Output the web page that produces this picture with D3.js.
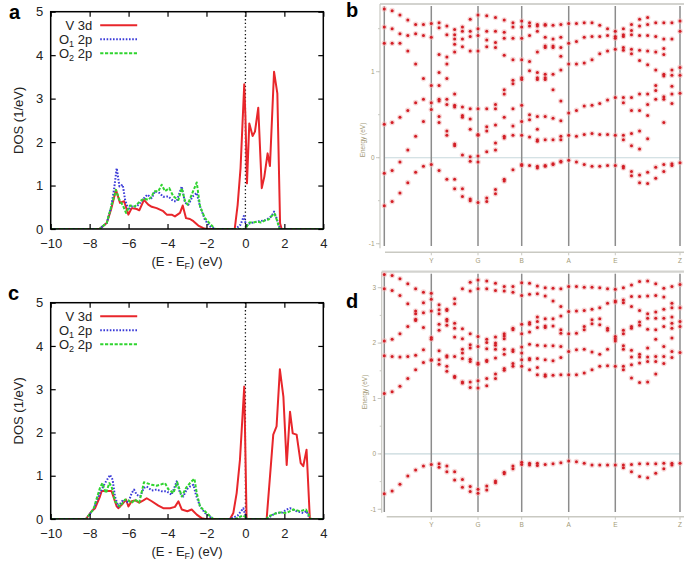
<!DOCTYPE html>
<html><head><meta charset="utf-8">
<script src="https://cdn.jsdelivr.net/npm/d3@7"></script>
<style>body{margin:0;background:#fff}svg{display:block}</style>
</head><body>
<svg id="c" width="685" height="562"></svg>
<script>
// ---------------- DOS data (energy eV, DOS 1/eV) ----------------
const dosXTicks = [-10,-8,-6,-4,-2,0,2,4];
const dosYTicks = [0,1,2,3,4,5];
const legendNames = ["V 3d","O1 2p","O2 2p"];

const v3dA = [[-10,0],[-7.5,0],[-7.12,0.14],[-6.9,0.45],[-6.65,0.90],[-6.44,0.60],[-6.23,0.64],[-6.01,0.33],[-5.84,0.48],[-5.58,0.46],[-5.45,0.43],[-5.21,0.67],[-4.99,0.56],[-4.81,0.51],[-4.56,0.48],[-4.22,0.41],[-4.04,0.33],[-3.79,0.33],[-3.62,0.29],[-3.36,0.37],[-3.22,0.54],[-3.05,0.25],[-2.85,0.23],[-2.67,0.18],[-2.42,0.08],[-2.16,0.02],[-1.99,0],[-0.55,0],[-0.40,0.55],[-0.25,1.4],[-0.06,3.33],[0.0,2.6],[0.08,1.05],[0.20,2.43],[0.37,2.14],[0.49,2.24],[0.66,2.79],[0.84,0.94],[0.97,1.20],[1.14,1.74],[1.26,1.45],[1.47,3.62],[1.64,3.12],[1.78,0.13],[1.86,0],[4,0]];
const o1A = [[-10,0],[-7.5,0],[-7.12,0.14],[-6.9,0.5],[-6.75,0.9],[-6.61,1.40],[-6.47,0.98],[-6.30,1.02],[-6.18,0.67],[-6.01,0.44],[-5.84,0.52],[-5.58,0.52],[-5.41,0.6],[-5.21,0.71],[-5.04,0.79],[-4.81,0.71],[-4.64,0.87],[-4.42,0.83],[-4.22,0.74],[-3.96,0.75],[-3.70,0.64],[-3.53,0.64],[-3.27,0.98],[-3.10,0.60],[-2.93,0.56],[-2.71,0.75],[-2.50,0.83],[-2.33,0.52],[-2.08,0.21],[-1.82,0.06],[-1.56,0],[-0.5,0],[-0.25,0.1],[-0.08,0.3],[0.05,0.05],[0.15,0.12],[0.4,0.15],[0.7,0.18],[1.0,0.2],[1.2,0.25],[1.35,0.3],[1.47,0.40],[1.6,0.25],[1.78,0],[4,0]];
const o2A = [[-10,0],[-7.5,0],[-7.12,0.14],[-6.9,0.5],[-6.65,0.90],[-6.47,0.67],[-6.3,0.55],[-6.13,0.37],[-5.93,0.54],[-5.67,0.52],[-5.41,0.64],[-5.21,0.70],[-4.99,0.67],[-4.81,0.75],[-4.69,0.87],[-4.47,0.87],[-4.30,1.02],[-4.13,0.87],[-3.91,0.94],[-3.70,0.75],[-3.44,0.67],[-3.27,0.94],[-3.10,0.64],[-2.97,0.56],[-2.76,0.79],[-2.50,1.07],[-2.33,0.52],[-2.08,0.25],[-1.82,0.12],[-1.56,0],[0.0,0],[0.1,0.08],[0.2,0.15],[0.4,0.15],[0.6,0.17],[0.8,0.15],[1.0,0.2],[1.2,0.22],[1.35,0.3],[1.5,0.35],[1.62,0.2],[1.75,0],[4,0]];

const v3dC = [[-10,0],[-8.19,0],[-7.90,0.18],[-7.72,0.25],[-7.47,0.52],[-7.38,0.65],[-6.95,0.65],[-6.87,0.64],[-6.61,0.29],[-6.53,0.25],[-6.27,0.37],[-6.13,0.45],[-6.01,0.29],[-5.84,0.41],[-5.67,0.43],[-5.45,0.38],[-5.24,0.43],[-5.07,0.48],[-4.81,0.41],[-4.47,0.31],[-4.22,0.25],[-3.87,0.25],[-3.62,0.28],[-3.44,0.41],[-3.27,0.22],[-2.98,0.18],[-2.76,0.22],[-2.50,0.10],[-2.25,0.02],[-2.08,0],[-0.79,0],[-0.62,0.14],[-0.45,0.60],[-0.28,1.37],[-0.14,2.45],[-0.06,3.06],[0.06,0],[1.09,0],[1.30,1.2],[1.43,1.95],[1.60,2.14],[1.77,3.46],[1.95,2.83],[2.12,1.25],[2.29,2.48],[2.43,1.98],[2.63,1.95],[2.84,1.29],[2.97,1.22],[3.14,1.60],[3.31,0],[4,0]];
const o1C = [[-10,0],[-8.19,0],[-7.81,0.22],[-7.47,0.6],[-7.21,0.83],[-6.95,1.02],[-6.82,0.91],[-6.70,0.52],[-6.53,0.29],[-6.27,0.45],[-6.01,0.38],[-5.84,0.60],[-5.72,0.68],[-5.58,0.56],[-5.41,0.52],[-5.21,0.72],[-5.07,0.75],[-4.81,0.66],[-4.56,0.68],[-4.30,0.64],[-4.04,0.64],[-3.79,0.56],[-3.53,0.87],[-3.36,0.60],[-3.19,0.52],[-3.02,0.68],[-2.85,0.75],[-2.67,0.79],[-2.54,0.56],[-2.33,0.29],[-2.08,0.14],[-1.82,0.05],[-1.65,0],[-0.79,0],[-0.4,0.08],[-0.11,0.25],[0.05,0],[1.09,0],[1.35,0.08],[1.60,0.14],[1.9,0.15],[2.12,0.22],[2.29,0.25],[2.63,0.18],[2.97,0.14],[3.14,0.18],[3.3,0],[4,0]];
const o2C = [[-10,0],[-8.19,0],[-7.81,0.22],[-7.47,0.72],[-7.35,0.83],[-7.16,0.60],[-6.99,0.83],[-6.87,0.75],[-6.70,0.41],[-6.44,0.29],[-6.18,0.45],[-6.01,0.43],[-5.84,0.37],[-5.67,0.45],[-5.45,0.38],[-5.21,0.85],[-5.07,0.83],[-4.81,0.79],[-4.56,0.77],[-4.39,0.79],[-4.13,0.83],[-3.96,0.69],[-3.70,0.60],[-3.50,0.85],[-3.27,0.52],[-3.05,0.72],[-2.85,0.83],[-2.62,0.93],[-2.50,0.60],[-2.33,0.29],[-1.99,0.14],[-1.65,0],[-0.5,0],[-0.15,0.08],[0.0,0.05],[0.06,0],[1.09,0],[1.18,0.06],[1.5,0.12],[1.77,0.15],[2.12,0.14],[2.46,0.22],[2.80,0.18],[3.11,0.22],[3.31,0.05],[3.36,0],[4,0]];

// ---------------- Band structure data ----------------
const kLabels = ["", "Y", "G", "B", "A", "E", "Z"];
const kNodes = [0, 0.47, 0.937, 1.374, 1.844, 2.31, 2.957];
const kSegPoints = [6, 6, 5, 6, 6, 8];
const bandYTicksB = [-1, 0, 1];
const bandYTicksD = [-1, 0, 1, 2, 3];

const bandsB = [
[1.73,1.52,1.33,0.39,-0.18,-0.56],
[1.71,1.50,1.33,0.41,-0.15,-0.51],
[1.66,1.44,1.33,0.47,-0.05,-0.41],
[1.60,1.42,1.24,0.55,0.09,-0.29],
[1.55,1.44,1.09,0.64,0.25,-0.17],
[1.55,1.42,0.92,0.68,0.42,-0.10],
[1.56,1.40,0.84,0.64,0.56,-0.08],
[1.57,1.51,1.20,0.99,0.84,0.68,0.66,0.48,0.41,-0.15],
[1.53,1.43,1.17,1.09,0.92,0.68,0.62,0.31,0.26,-0.25],
[1.49,1.43,1.38,1.32,1.23,0.74,0.61,0.59,0.16,0.14,-0.25,-0.36],
[1.52,1.47,1.38,1.29,0.59,0.49,0.47,0.03,-0.36,-0.45],
[1.61,1.47,1.41,1.24,0.57,0.45,0.33,0.01,-0.04,-0.48,-0.50],
[1.66,1.50,1.42,1.24,0.57,0.27,0.26,0.02,-0.05,-0.52],
[1.65,1.47,1.37,1.29,0.57,0.36,0.31,0.07,-0.47,-0.51],
[1.63,1.47,1.34,1.28,0.62,0.57,0.38,0.17,0.09,-0.37,-0.42],
[1.60,1.46,1.39,1.19,0.79,0.74,0.47,0.25,0.23,-0.25,-0.27],
[1.57,1.52,1.39,1.14,0.90,0.86,0.57,0.37,0.26,-0.14],
[1.59,1.52,1.39,1.14,0.93,0.91,0.61,0.42,0.26,-0.08,-0.09],
[1.57,1.53,1.42,1.12,1.01,0.50,0.44,0.24,-0.09],
[1.55,1.53,1.47,1.23,0.99,0.93,0.91,0.48,0.33,0.21,0.19,-0.10,-0.12],
[1.55,1.54,1.40,1.30,1.28,0.97,0.93,0.91,0.48,0.21,-0.09,-0.10],
[1.54,1.38,1.30,1.28,0.97,0.79,0.46,0.21,-0.07,-0.08],
[1.55,1.40,1.28,1.18,1.02,0.66,0.43,0.25,0.21,-0.04,-0.05],
[1.56,1.33,1.09,0.52,0.26,-0.03],
[1.56,1.35,1.09,0.55,0.25,-0.05],
[1.57,1.40,1.10,0.60,0.27,-0.08],
[1.57,1.41,1.14,0.61,0.28,-0.10],
[1.54,1.41,1.21,0.63,0.27,-0.10],
[1.50,1.42,1.24,0.67,0.27,-0.09],
[1.47,1.41,1.39,1.26,0.70,0.26,-0.09],
[1.50,1.43,1.41,1.28,1.25,0.70,0.64,0.26,0.21,-0.10,-0.12],
[1.55,1.48,1.43,1.26,1.21,0.70,0.55,0.28,0.14,-0.16,-0.21],
[1.61,1.53,1.42,1.25,1.13,0.74,0.55,0.31,0.10,-0.20,-0.29],
[1.63,1.55,1.42,1.24,1.08,0.74,0.62,0.49,0.22,-0.17,-0.30],
[1.57,1.41,1.23,1.02,0.84,0.78,0.68,-0.11,-0.24],
[1.57,1.38,1.27,1.20,0.97,0.95,0.71,0.68,0.41,-0.08,-0.16],
[1.57,1.38,1.02,0.96,0.83,0.74,0.63,-0.07,-0.09],
[1.59,1.47,1.05,0.96,0.75,-0.06]
];

const bandsD = [
[3.24,2.98,2.04,1.77,1.09,-0.72],
[3.22,2.95,2.07,1.76,1.12,-0.67],
[3.16,2.86,2.17,1.75,1.22,-0.55],
[3.07,2.71,2.30,1.76,1.36,-0.40],
[2.98,2.58,2.53,2.43,2.41,1.78,1.52,-0.29],
[2.92,2.73,2.55,2.28,1.88,1.65,-0.22],
[2.90,2.79,2.58,2.10,2.07,1.70,1.69,-0.19],
[2.69,2.60,2.53,2.34,2.23,1.86,1.70,1.62,-0.18,-0.24],
[2.61,2.59,2.43,2.40,2.32,1.77,1.75,1.58,1.49,-0.22,-0.32],
[2.80,2.71,2.36,2.27,2.11,1.76,1.40,1.38,-0.32,-0.47],
[2.98,2.26,2.08,1.89,1.82,1.72,1.30,1.28,-0.46,-0.60],
[3.10,2.94,2.17,1.97,1.91,1.71,1.67,1.30,1.20,-0.59,-0.68],
[3.14,2.98,2.12,1.94,1.64,1.62,1.32,1.19,-0.64,-0.71],
[3.12,2.98,2.07,2.01,1.90,1.69,1.67,1.36,1.23,-0.58,-0.65],
[3.08,2.95,2.11,2.00,1.96,1.89,1.73,1.44,1.36,-0.49,-0.52],
[3.02,2.94,2.17,2.13,2.08,1.89,1.80,1.54,1.51,-0.33,-0.36],
[3.02,2.92,2.27,2.24,1.88,1.85,1.63,1.58,-0.22,-0.27],
[3.09,2.86,2.34,2.17,1.93,1.82,1.70,1.58,-0.15,-0.19],
[3.08,2.88,2.37,2.34,2.20,1.98,1.72,1.70,1.52,-0.17,-0.20],
[3.03,2.89,2.47,2.39,2.28,1.96,1.72,1.56,1.43,-0.17,-0.21],
[3.00,2.85,2.44,2.31,2.28,1.95,1.70,1.43,1.40,-0.19],
[2.99,2.76,2.44,2.31,1.95,1.68,1.42,-0.18],
[2.98,2.66,2.49,2.24,2.18,1.94,1.74,1.43,-0.16],
[3.02,2.57,2.17,1.85,1.43,-0.13],
[3.02,2.58,2.18,1.88,1.43,-0.14],
[3.01,2.59,2.30,2.24,1.89,1.46,-0.17],
[3.01,2.61,2.42,2.35,1.84,1.52,-0.20],
[3.00,2.64,2.44,2.33,1.80,1.58,-0.20],
[2.98,2.72,2.27,2.23,1.89,1.59,-0.20],
[2.97,2.76,2.74,2.12,2.08,2.04,1.58,-0.20],
[3.00,2.78,2.73,2.23,2.17,1.95,1.89,1.58,1.52,-0.20,-0.25],
[3.05,2.84,2.66,2.30,2.27,1.87,1.75,1.61,1.37,-0.19,-0.32],
[3.11,2.84,2.59,2.38,2.32,1.80,1.75,1.64,1.29,-0.18,-0.41],
[3.12,2.85,2.53,2.45,2.25,1.91,1.75,1.67,1.30,-0.18,-0.43],
[3.07,2.86,2.56,2.45,2.24,2.07,1.76,1.67,1.44,-0.18,-0.35],
[2.99,2.83,2.61,2.45,2.30,1.94,1.76,1.63,-0.17,-0.27],
[3.02,2.72,2.64,2.47,2.36,2.27,2.09,1.85,1.74,-0.17,-0.20],
[3.06,2.64,2.39,2.30,1.83,-0.17]
];

// ---------------- drawing ----------------
const svg = d3.select("#c");
const FONT = "'Liberation Sans', Arial, Helvetica, sans-serif";
const colors = {v:"#e8262b", o1:"#3a3ad8", o2:"#2fd42f"};

function panelLabel(t, x, y){
  svg.append("text").attr("x",x).attr("y",y).text(t)
    .attr("font-family",FONT).attr("font-weight","bold").attr("font-size",20).attr("fill","#000");
}

function dosPanel(cfg){
  const g = svg.append("g");
  const x = d3.scaleLinear().domain([-10,4]).range([cfg.x0,cfg.x1]);
  const y = d3.scaleLinear().domain([0,5]).range([cfg.y1,cfg.y0]);
  const id = "clip"+cfg.name;
  svg.append("defs").append("clipPath").attr("id",id).append("rect")
    .attr("x",cfg.x0).attr("y",cfg.y0).attr("width",cfg.x1-cfg.x0).attr("height",cfg.y1-cfg.y0);
  const line = d3.line().x(d=>x(d[0])).y(d=>y(d[1]));
  const lg = g.append("g").attr("clip-path",`url(#${id})`);
  // Fermi level dotted line
  lg.append("line").attr("x1",x(0)).attr("x2",x(0)).attr("y1",cfg.y0).attr("y2",cfg.y1)
    .attr("stroke","#111").attr("stroke-width",1.3).attr("stroke-dasharray","1.3,2.4");
  const series = [
    {d:cfg.v, c:colors.v, dash:null, w:2},
    {d:cfg.o1, c:colors.o1, dash:"1.6,1.6", w:2},
    {d:cfg.o2, c:colors.o2, dash:"3.2,1.6", w:2}
  ];
  series.forEach(s=>{
    lg.append("path").attr("d",line(s.d)).attr("fill","none").attr("stroke",s.c)
      .attr("stroke-width",s.w).attr("stroke-dasharray",s.dash).attr("stroke-linejoin","round");
  });
  // axes (gnuplot style inward ticks, mirrored)
  const ax = (gen, tr, labels) => {
    const a = g.append("g").attr("transform",tr).call(gen);
    a.select(".domain").remove();
    a.selectAll("line").attr("stroke","#000").attr("stroke-width",1.2);
    a.selectAll("text").attr("font-family",FONT).attr("font-size",13).attr("fill","#222");
    if(!labels) a.selectAll("text").remove();
    return a;
  };
  ax(d3.axisBottom(x).tickValues(dosXTicks).tickSize(-5).tickPadding(9.5).tickFormat(d3.format("d")), `translate(0,${cfg.y1})`, true);
  ax(d3.axisTop(x).tickValues(dosXTicks).tickSize(-5), `translate(0,${cfg.y0})`, false);
  ax(d3.axisLeft(y).tickValues(dosYTicks).tickSize(-5).tickPadding(7.5).tickFormat(d3.format("d")), `translate(${cfg.x0},0)`, true);
  ax(d3.axisRight(y).tickValues(dosYTicks).tickSize(-5), `translate(${cfg.x1},0)`, false);
  // frame
  g.append("rect").attr("x",cfg.x0).attr("y",cfg.y0).attr("width",cfg.x1-cfg.x0).attr("height",cfg.y1-cfg.y0)
    .attr("fill","none").attr("stroke","#000").attr("stroke-width",1.5);
  // axis titles
  const yc = (cfg.y0+cfg.y1)/2;
  g.append("text").attr("transform",`translate(${cfg.x0-32},${yc}) rotate(-90)`).attr("text-anchor","middle")
    .attr("dy","0.35em").attr("font-family",FONT).attr("font-size",13).attr("fill","#222").text("DOS (1/eV)");
  const xl = g.append("text").attr("x",(cfg.x0+cfg.x1)/2).attr("y",cfg.y1+37).attr("text-anchor","middle")
    .attr("font-family",FONT).attr("font-size",13).attr("fill","#222");
  xl.append("tspan").text("(E - E");
  xl.append("tspan").attr("font-size",9).attr("dy",3).text("F");
  xl.append("tspan").attr("dy",-3).text(") (eV)");
  // legend
  const ls = [{n:"V 3d",c:colors.v,dash:null},{n:"O1 2p",c:colors.o1,dash:"1.6,1.6"},{n:"O2 2p",c:colors.o2,dash:"3.2,1.6"}];
  ls.forEach((l,i)=>{
    const ly = cfg.y0 + 13.5 + i*14;
    const t = g.append("text").attr("x",cfg.x0+41.5).attr("y",ly+4.5).attr("text-anchor","end")
      .attr("font-family",FONT).attr("font-size",13).attr("fill","#222");
    const name = legendNames[i];
    if(name.startsWith("O")){
      t.append("tspan").text("O");
      t.append("tspan").attr("font-size",9).attr("dy",3).text(name[1]);
      t.append("tspan").attr("dy",-3).text(name.slice(2));
    } else t.text(name);
    g.append("line").attr("x1",cfg.x0+49.5).attr("x2",cfg.x0+86.5).attr("y1",ly).attr("y2",ly)
      .attr("stroke",l.c).attr("stroke-width",2).attr("stroke-dasharray",l.dash);
  });
}

function bandPanel(cfg){
  const g = svg.append("g");
  const xK = d3.scaleLinear().domain([kNodes[0], kNodes[kNodes.length-1]]).range([384.3, 680]);
  const yE = d3.scaleLinear().domain(cfg.eDom).range(cfg.eRange);
  const axisCol = "#c9c9c2", textCol = "#a39a78";
  // k positions of columns
  const kCols = [];
  kSegPoints.forEach((n,i)=>{
    for(let j=0;j<n;j++) kCols.push(kNodes[i] + (kNodes[i+1]-kNodes[i])*j/n);
  });
  kCols.push(kNodes[kNodes.length-1]);
  // frame lines
  g.append("line").attr("x1",cfg.axisX).attr("x2",684).attr("y1",cfg.top).attr("y2",cfg.top)
    .attr("stroke","#d3d3cf").attr("stroke-width",2.2);
  g.append("line").attr("x1",cfg.axisX).attr("x2",cfg.axisX).attr("y1",cfg.top).attr("y2",cfg.bottom-4)
    .attr("stroke",axisCol).attr("stroke-width",1.2);
  g.append("line").attr("x1",cfg.axisX+5).attr("x2",684).attr("y1",cfg.bottom).attr("y2",cfg.bottom)
    .attr("stroke",axisCol).attr("stroke-width",1.5);
  // Fermi level line
  g.append("line").attr("x1",xK(kNodes[0])).attr("x2",xK(kNodes[kNodes.length-1])).attr("y1",yE(0)).attr("y2",yE(0))
    .attr("stroke","#c7d8dc").attr("stroke-width",1.1);
  // high symmetry verticals
  g.selectAll(".kv").data(kNodes).enter().append("line")
    .attr("x1",d=>xK(d)).attr("x2",d=>xK(d)).attr("y1",cfg.top+2).attr("y2",cfg.lineEnd)
    .attr("stroke","#8c8c8c").attr("stroke-width",1.5);
  // y ticks
  const minor = d3.range(cfg.eDom[0], cfg.eTop, 0.5);
  g.selectAll(".mt").data(minor).enter().append("line")
    .attr("x1",cfg.axisX-2).attr("x2",cfg.axisX).attr("y1",d=>yE(d)).attr("y2",d=>yE(d))
    .attr("stroke",axisCol).attr("stroke-width",1);
  g.selectAll(".Mt").data(cfg.yTicks).enter().append("line")
    .attr("x1",cfg.axisX-4).attr("x2",cfg.axisX).attr("y1",d=>yE(d)).attr("y2",d=>yE(d))
    .attr("stroke",axisCol).attr("stroke-width",1);
  g.selectAll(".yl").data(cfg.yTicks).enter().append("text")
    .attr("x",cfg.axisX-5.5).attr("y",d=>yE(d)).attr("dy","0.35em").attr("text-anchor","end")
    .attr("font-family",FONT).attr("font-size",6.5).attr("fill",textCol).text(d=>d);
  g.append("text").attr("transform",`translate(${cfg.axisX-17},${cfg.labelY}) rotate(-90)`)
    .attr("text-anchor","middle").attr("dy","0.35em").attr("font-family",FONT).attr("font-size",6.5)
    .attr("fill",textCol).text("Energy (eV)");
  // x ticks & labels
  g.selectAll(".xt").data(kNodes.slice(1)).enter().append("line")
    .attr("x1",d=>xK(d)).attr("x2",d=>xK(d)).attr("y1",cfg.bottom).attr("y2",cfg.bottom+3)
    .attr("stroke",axisCol).attr("stroke-width",1);
  g.selectAll(".xl").data(kNodes).enter().append("text")
    .attr("x",d=>xK(d)).attr("y",cfg.bottom+8.5).attr("dy","0.35em").attr("text-anchor","middle")
    .attr("font-family",FONT).attr("font-size",6.5).attr("fill",textCol).text((d,i)=>kLabels[i]);
  // dots
  const pts = [];
  cfg.bands.forEach((col,i)=>col.forEach(e=>pts.push([kCols[i], e])));
  g.selectAll(".halo").data(pts).enter().append("circle")
    .attr("cx",d=>xK(d[0])).attr("cy",d=>yE(d[1])).attr("r",2.8)
    .attr("fill","#f0b4b4").attr("opacity",0.55);
  g.selectAll(".dot").data(pts).enter().append("circle")
    .attr("cx",d=>xK(d[0])).attr("cy",d=>yE(d[1])).attr("r",1.5)
    .attr("fill","#d21e26");
}

dosPanel({name:"a", x0:50.7, x1:323.3, y0:11.7, y1:229, v:v3dA, o1:o1A, o2:o2A});
dosPanel({name:"c", x0:50.7, x1:323.3, y0:302.7, y1:519, v:v3dC, o1:o1C, o2:o2C});
bandPanel({bands:bandsB, eDom:[-1,1], eRange:[243.7,71.7], eTop:1.79, yTicks:bandYTicksB,
  top:4, bottom:252.3, axisX:380, lineEnd:246, labelY:140});
bandPanel({bands:bandsD, eDom:[-1,3], eRange:[509.3,287.7], eTop:3.29, yTicks:bandYTicksD,
  top:271.7, bottom:516.7, axisX:381.7, lineEnd:512, labelY:392});

panelLabel("a", 9, 18.5);
panelLabel("b", 346, 17);
panelLabel("c", 8, 300);
panelLabel("d", 346, 308);
</script>
</body></html>
